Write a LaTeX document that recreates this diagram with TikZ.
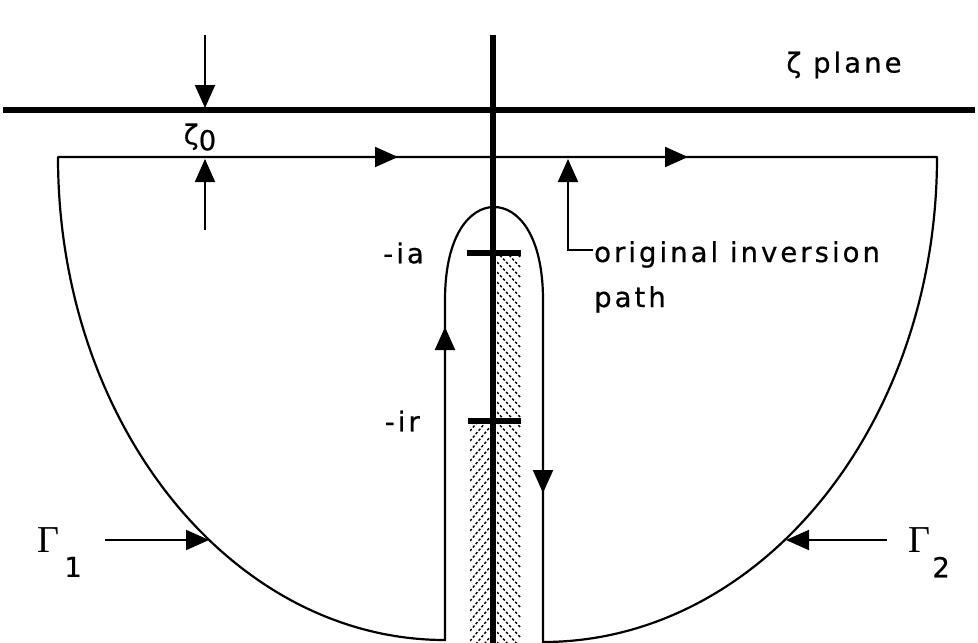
\documentclass[tikz,border=0pt]{standalone}
\usepackage{fontspec}
\newfontfamily\labelfont[LetterSpace=11, FakeBold=0.6]{DejaVu Sans}
\newfontfamily\gammafont{Liberation Serif}
\usetikzlibrary{positioning, arrows.meta}

\begin{document}
\begin{tikzpicture}[x=1pt, y=-1pt, >={Triangle[length=23pt, width=20pt]}]
    \tikzstyle{axisline} = [line width=6.5pt]
    \tikzstyle{contour} = [line width=2.2pt, line join=round]
    \tikzstyle{tickmark} = [line width=6pt]
    \tikzstyle{hatchline} = [line width=1.4pt, dash pattern=on 2.5pt off 2pt]
    \tikzstyle{flowtip} = [->, line width=2.2pt]
    \tikzstyle{pointer} = [->, line width=2pt]
    \tikzstyle{labeltext} = [inner sep=1pt, font=\labelfont\fontsize{27.5}{32}\selectfont]
    \tikzstyle{gammatext} = [inner sep=1pt, font=\gammafont\fontsize{38}{40}\selectfont]

    \useasboundingbox (0,0) rectangle (978,643);

    % hatched branch cut
    \begin{scope}
        \clip (497,253) rectangle (521,643);
        \foreach \y in {232,242,...,650}
            \draw[hatchline] (497,\y) -- ++(24,26);
    \end{scope}
    \begin{scope}
        \clip (470,421) rectangle (490,643);
        \foreach \y in {421,431,...,680}
            \draw[hatchline] (470,\y) -- ++(20,-24);
    \end{scope}

    % axes
    \draw[axisline] (3,110) -- (975,110);
    \draw[axisline] (493,35) -- (493,643);

    % contour
    \draw[contour] (58,157) -- (937,157)
        arc[start angle=0, end angle=90, x radius=394, y radius=485]
        -- (543,300) .. controls (543,235) and (518,207) .. (494,207)
        .. controls (470,207) and (445,235) .. (445,300)
        -- (445,640)
        arc[start angle=90, end angle=180, x radius=387, y radius=483]
        -- cycle;
    \draw[flowtip] (372,157) -- (398,157);
    \draw[flowtip] (662,157) -- (688,157);
    \draw[flowtip] (445,352) -- (445,327);
    \draw[flowtip] (543,467) -- (543,493);

    % branch points
    \coordinate (ia) at (493,253);
    \coordinate (ir) at (493,421);
    \draw[tickmark] ([xshift=-26pt]ia) -- ([xshift=28pt]ia);
    \draw[tickmark] ([xshift=-25pt]ir) -- ([xshift=28pt]ir);
    \node[labeltext, left=68pt of ia] (ialabel) {-ia};
    \node[labeltext, left=72pt of ir] (irlabel) {-ir};

    % zeta_0 gap
    \node[labeltext] (zetazero) at (200,137) {ζ\raisebox{-6pt}{0}};
    \coordinate (gaptop) at (205,35);
    \coordinate (gapupper) at (205,108);
    \coordinate (gapbot) at (205,230);
    \coordinate (gaplower) at (205,159);
    \draw[pointer] (gaptop) -- (gapupper);
    \draw[pointer] (gapbot) -- (gaplower);

    \node[labeltext] (planelabel) at (844,65) {ζ plane};

    % original path
    \node[labeltext, anchor=base west] (origtext) at (593,262) {original inversion};
    \node[labeltext, anchor=base west] (pathtext) at ([yshift=-45pt]origtext.base west) {path};
    \coordinate (pathfoot) at (568,159);
    \draw[pointer] ([yshift=4pt]origtext.west) -| (pathfoot);

    % Gamma labels
    \node[gammatext] (gammaone) at (48,540) {Γ};
    \node[labeltext, below right=2pt and 3pt of gammaone] (gammaonesub) {1};
    \coordinate (arcleft) at (209,540);
    \draw[pointer, shorten <=45pt] (gammaone) -- (arcleft);

    \node[gammatext] (gammatwo) at (919,540) {Γ};
    \node[labeltext, below right=2pt and 0pt of gammatwo] (gammatwosub) {2};
    \coordinate (arcright) at (786,540);
    \draw[pointer, shorten <=20pt] (gammatwo) -- (arcright);
\end{tikzpicture}
\end{document}
